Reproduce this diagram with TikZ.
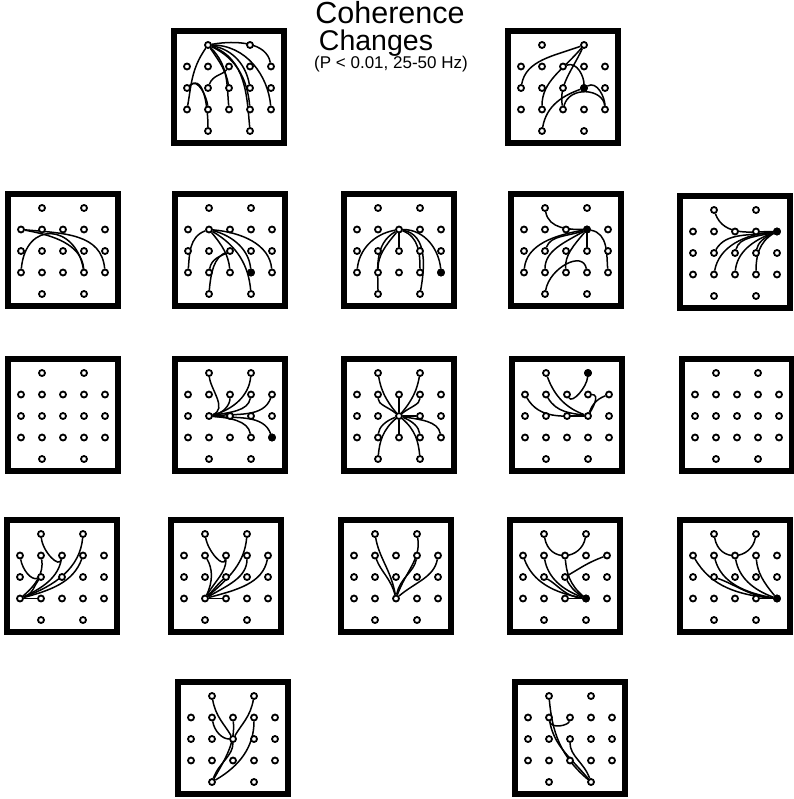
\documentclass[tikz,border=0pt]{standalone}
\usepackage{fontspec}
\setmainfont{Liberation Sans}
\pgfdeclarelayer{bglayer}
\pgfdeclarelayer{linklayer}
\pgfsetlayers{bglayer,linklayer,main}
\tikzset{
  site/.style={circle,draw=black,fill=white,line width=1.8pt,minimum size=6pt,inner sep=0pt},
  frame/.style={draw=black,line width=6pt,minimum width=110pt,minimum height=112pt,inner sep=0pt},
  link/.style={draw=black,line width=1.5pt},
  title/.style={anchor=base,inner sep=0pt}
}
\newcommand{\placesites}{%
  \node[frame] (frame) at (0,0) {};
  \foreach \nm/\cc/\rr in {Fp1/1/0,Fp2/3/0,F7/0/1,F3/1/1,Fz/2/1,F4/3/1,F8/4/1,T3/0/2,C3/1/2,Cz/2/2,C4/3/2,T4/4/2,T5/0/3,P3/1/3,Pz/2/3,P4/3/3,T6/4/3,O1/1/4,O2/3/4}
  {\node[site] (\nm) at ({(\cc-2)*21},{-(\rr-2)*21.5-1}) {};}%
}
\newcommand{\hubfill}[1]{\fill[black] (#1.center) circle[radius=3.9pt];}
\begin{document}
\begin{tikzpicture}[x=1pt,y=1pt]
\useasboundingbox (0,0) rectangle (793,-799);
\begin{pgfonlayer}{bglayer}
\fill[white] (0,0) rectangle (793,-799);
\end{pgfonlayer}
% title
\node[title,font=\fontsize{30.5}{31}\selectfont] (t1) at (390,-24) {Coherence};
\node[title,font=\fontsize{28.5}{29}\selectfont] (t2) at (376,-51) {Changes};
\node[title,font=\fontsize{17}{17}\selectfont] (t3) at (391,-69) {(P < 0.01, 25-50 Hz)};

% ---------- Row 1, left: hub Fp1
\begin{scope}[shift={(229,-87)},name prefix=a1-]
\placesites
\begin{pgfonlayer}{linklayer}
\draw[link] (Fp1) to[out=235,in=80] (T5);
\draw[link] (T3) to[out=45,in=95] (P3);
\draw[link] (T3) to[out=40,in=90] (O1);
\draw[link] (C3) to[out=70,in=235] (Fz);
\draw[link] (Fp1) to[out=10,in=100] (F8);
\draw[link] (Fp1) to[out=0,in=95] (T6);
\draw[link] (Fp1) to[out=-20,in=95] (O2);
\draw[link] (Fp1) to[out=-25,in=95] (P4);
\draw[link] (Fp1) to[out=-45,in=95] (Pz);
\draw[link] (Fp1) to[out=-10,in=100] (C4);
\draw[link] (Fp1) to[out=-55,in=100] (Cz);
\end{pgfonlayer}
\end{scope}

% ---------- Row 1, right: hub Fp2
\begin{scope}[shift={(563,-87)},name prefix=a2-]
\placesites
\hubfill{C4}
\begin{pgfonlayer}{linklayer}
\draw[link] (Fp2) to[out=200,in=80] (T3);
\draw[link] (Fp2) to[out=230,in=90] (P3);
\draw[link] (Fp2) to[out=245,in=100] (Pz);
\draw[link] (O1) to[out=80,in=200] (C4);
\draw[link] (Fz) to[out=20,in=90] (C4);
\draw[link] (Pz) to[out=75,in=95,looseness=1.3] (T6);
\draw[link] (C4) to[out=30,in=90] (T6);
\end{pgfonlayer}
\end{scope}

% ---------- Row 2
\begin{scope}[shift={(63,-250)},name prefix=b1-]
\placesites
\begin{pgfonlayer}{linklayer}
\draw[link] (F7) to[out=-5,in=95,looseness=1.1] (T6);
\draw[link] (F7) to[out=-10,in=95] (P4);
\draw[link] (T5) to[out=85,in=100,looseness=2] (P4);
\end{pgfonlayer}
\end{scope}

\begin{scope}[shift={(230,-250)},name prefix=b2-]
\placesites
\hubfill{P4}
\begin{pgfonlayer}{linklayer}
\draw[link] (F3) to[out=200,in=85] (T5);
\draw[link] (F3) to[out=-5,in=95] (T6);
\draw[link] (F3) to[out=-15,in=95] (P4);
\draw[link] (F3) to[out=-30,in=95] (O2);
\draw[link] (F3) to[out=-50,in=95] (Pz);
\draw[link] (O1) to[out=85,in=200] (Cz);
\draw[link] (P3) to[out=80,in=210] (Cz);
\end{pgfonlayer}
\end{scope}

\begin{scope}[shift={(399,-250)},name prefix=b3-]
\placesites
\hubfill{T6}
\begin{pgfonlayer}{linklayer}
\draw[link] (Fz) to[out=190,in=85] (T5);
\draw[link] (Fz) to[out=210,in=90] (O1);
\draw[link] (Fz) to[out=230,in=90] (P3);
\draw[link] (Fz) -- (Cz);
\draw[link] (Fz) to[out=-20,in=90] (P4);
\draw[link] (Fz) to[out=-10,in=80] (O2);
\draw[link] (Fz) to[out=0,in=95] (T6);
\end{pgfonlayer}
\end{scope}

\begin{scope}[shift={(566,-250)},name prefix=b4-]
\placesites
\hubfill{F4}
\begin{pgfonlayer}{linklayer}
\draw[link] (Fp1) to[out=-80,in=180] (F4);
\draw[link] (Fz) -- (F4);
\draw[link] (F4) to[out=190,in=85] (T5);
\draw[link] (F4) to[out=200,in=70] (C3);
\draw[link] (F4) to[out=210,in=90] (P3);
\draw[link] (F4) to[out=230,in=95] (Pz);
\draw[link] (F4) -- (C4);
\draw[link] (F4) to[out=-10,in=95] (T6);
\draw[link] (O1) to[out=80,in=100,looseness=1.3] (P4);
\end{pgfonlayer}
\end{scope}

\begin{scope}[shift={(735,-252)},name prefix=b5-]
\placesites
\hubfill{F8}
\begin{pgfonlayer}{linklayer}
\draw[link] (Fp1) to[out=-70,in=180] (F8);
\draw[link] (F4) -- (F8);
\draw[link] (F8) to[out=185,in=80] (P3);
\draw[link] (F8) to[out=190,in=60] (C3);
\draw[link] (F8) to[out=195,in=75] (Cz);
\draw[link] (F8) to[out=200,in=85] (Pz);
\draw[link] (F8) to[out=205,in=80] (C4);
\draw[link] (F8) to[out=210,in=90] (P4);
\end{pgfonlayer}
\end{scope}

% ---------- Row 3
\begin{scope}[shift={(63,-415)},name prefix=c1-]
\placesites
\end{scope}

\begin{scope}[shift={(230,-415)},name prefix=c2-]
\placesites
\hubfill{T6}
\begin{pgfonlayer}{linklayer}
\draw[link] (C3) to[out=20,in=-85] (Fp1);
\draw[link] (C3) to[out=15,in=-95] (Fp2);
\draw[link] (C3) to[out=10,in=-90] (Fz);
\draw[link] (C3) to[out=10,in=-100] (F4);
\draw[link] (C3) to[out=5,in=-110] (F8);
\draw[link] (C3) to[out=-5,in=100] (P4);
\draw[link] (C3) to[out=-5,in=110] (T6);
\end{pgfonlayer}
\end{scope}

\begin{scope}[shift={(399,-415)},name prefix=c3-]
\placesites
\begin{pgfonlayer}{linklayer}
\draw[link] (Cz) to[out=130,in=-80] (Fp1);
\draw[link] (Cz) to[out=50,in=-100] (Fp2);
\draw[link] (Cz) to[out=140,in=-90] (F3);
\draw[link] (Cz) -- (Fz);
\draw[link] (Cz) to[out=40,in=-90] (F4);
\draw[link] (Cz) -- (C4);
\draw[link] (Cz) to[out=-10,in=100] (T6);
\draw[link] (Cz) to[out=200,in=85] (P3);
\draw[link] (Cz) -- (Pz);
\draw[link] (Cz) to[out=-20,in=95] (P4);
\draw[link] (Cz) to[out=220,in=85] (O1);
\draw[link] (Cz) to[out=-40,in=95] (O2);
\end{pgfonlayer}
\end{scope}

\begin{scope}[shift={(567,-415)},name prefix=c4-]
\placesites
\hubfill{Fp2}
\begin{pgfonlayer}{linklayer}
\draw[link] (Cz) -- (C4);
\draw[link] (F7) to[out=-60,in=180] (C4);
\draw[link] (F3) to[out=-60,in=170] (C4);
\draw[link] (Fp1) to[out=-70,in=160] (C4);
\draw[link] (Fp2) to[out=-95,in=-60] (Fz);
\draw[link] (F4) to[out=0,in=60] (C4);
\draw[link] (F8) to[out=200,in=70] (C4);
\end{pgfonlayer}
\end{scope}

\begin{scope}[shift={(737,-415)},name prefix=c5-]
\placesites
\end{scope}

% ---------- Row 4
\begin{scope}[shift={(62,-576)},name prefix=d1-]
\placesites
\begin{pgfonlayer}{linklayer}
\draw[link] (T5) -- (P3);
\draw[link] (T5) to[out=20,in=230] (C3);
\draw[link] (T5) to[out=40,in=-80] (F3);
\draw[link] (T5) to[out=25,in=-100] (Fz);
\draw[link] (T5) to[out=15,in=-110] (F4);
\draw[link] (T5) to[out=20,in=-95] (Fp2);
\draw[link] (F7) to[out=-80,in=200] (C3);
\draw[link] (Fp1) to[out=-85,in=-100,looseness=1.3] (Fz);
\end{pgfonlayer}
\end{scope}

\begin{scope}[shift={(226,-576)},name prefix=d2-]
\placesites
\begin{pgfonlayer}{linklayer}
\draw[link] (P3) -- (Pz);
\draw[link] (P3) to[out=40,in=-95] (Fp2);
\draw[link] (P3) to[out=60,in=-90] (Fz);
\draw[link] (P3) to[out=30,in=-90] (F4);
\draw[link] (P3) to[out=15,in=-100] (F8);
\draw[link] (P3) to[out=45,in=220] (Cz);
\draw[link] (P3) to[out=65,in=-60] (F3);
\draw[link] (Fp1) to[out=-80,in=-100,looseness=1.3] (Fz);
\end{pgfonlayer}
\end{scope}

\begin{scope}[shift={(396,-576)},name prefix=d3-]
\placesites
\begin{pgfonlayer}{linklayer}
\draw[link] (Pz) to[out=100,in=-80] (Fp1);
\draw[link] (Pz) to[out=105,in=-70] (F3);
\draw[link] (Pz) to[out=80,in=-100] (F4);
\draw[link] (Pz) to[out=40,in=-100] (F8);
\draw[link] (Pz) to[out=70,in=-80] (Fp2);
\end{pgfonlayer}
\end{scope}

\begin{scope}[shift={(565,-576)},name prefix=d4-]
\placesites
\hubfill{P4}
\begin{pgfonlayer}{linklayer}
\draw[link] (Fp1) to[out=-80,in=-100,looseness=1.6] (Fp2);
\draw[link] (F8) to[out=200,in=30] (Cz);
\draw[link] (P4) to[out=170,in=-70] (F7);
\draw[link] (P4) to[out=160,in=-80] (F3);
\draw[link] (P4) to[out=140,in=-85] (Fz);
\draw[link] (P4) to[out=175,in=-30] (C3);
\draw[link] (P4) to[out=150,in=-60] (Cz);
\draw[link] (P4) -- (Pz);
\end{pgfonlayer}
\end{scope}

\begin{scope}[shift={(735,-576)},name prefix=d5-]
\placesites
\hubfill{T6}
\begin{pgfonlayer}{linklayer}
\draw[link] (Fp1) to[out=-80,in=-100,looseness=1.6] (Fp2);
\draw[link] (T6) to[out=175,in=-60] (F7);
\draw[link] (T6) to[out=170,in=-75] (F3);
\draw[link] (T6) to[out=175,in=-20] (C3);
\draw[link] (T6) to[out=160,in=-80] (Fz);
\draw[link] (T6) to[out=130,in=-85] (F4);
\draw[link] (T6) -- (P4);
\end{pgfonlayer}
\end{scope}

% ---------- Row 5
\begin{scope}[shift={(233,-738)},name prefix=e1-]
\placesites
\begin{pgfonlayer}{linklayer}
\draw[link] (Fp1) to[out=-80,in=120] (Cz);
\draw[link] (F3) to[out=-80,in=180] (Cz);
\draw[link] (Fp2) to[out=-100,in=60] (Cz);
\draw[link] (O1) to[out=30,in=-90] (F4);
\draw[link] (O1) to[out=60,in=-85] (Fz);
\draw[link] (O1) to[out=70,in=-90] (Cz);
\end{pgfonlayer}
\end{scope}

\begin{scope}[shift={(570,-738)},name prefix=e2-]
\placesites
\begin{pgfonlayer}{linklayer}
\draw[link] (O2) to[out=140,in=-85] (Fp1);
\draw[link] (O2) to[out=130,in=-80] (F3);
\draw[link] (O2) to[out=110,in=-90] (Cz);
\draw[link] (F3) to[out=-80,in=-100] (Fz);
\end{pgfonlayer}
\end{scope}
\end{tikzpicture}
\end{document}
